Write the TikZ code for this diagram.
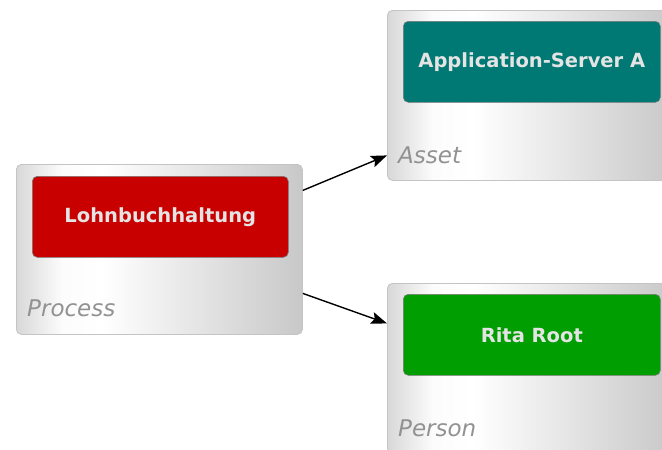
\documentclass[tikz,border=0pt]{standalone}
\usepackage{fontspec}
\setmainfont{DejaVu Sans}
\usetikzlibrary{arrows.meta,positioning}
\definecolor{boxleft}{HTML}{D8D8D8}
\definecolor{boxright}{HTML}{C8C8C8}
\definecolor{boxborder}{HTML}{C4C4C4}
\definecolor{innerborder}{HTML}{7A7A7A}
\definecolor{procred}{HTML}{C80000}
\definecolor{assetteal}{HTML}{007873}
\definecolor{persongreen}{HTML}{009E00}
\definecolor{innertext}{HTML}{E4E4E4}
\definecolor{typetext}{HTML}{929292}
\pgfdeclarehorizontalshading{boxshade}{100bp}{color(0bp)=(boxleft); color(25bp)=(boxleft); color(33bp)=(white!92!boxleft); color(40bp)=(white); color(75bp)=(boxright); color(100bp)=(boxright)}
\tikzset{
  outerbox/.style={draw=boxborder, line width=0.8pt, rounded corners=5pt, shading=boxshade, minimum width=286pt, minimum height=170pt, inner sep=0pt, anchor=north west},
  innerbox/.style={draw=innerborder, line width=0.6pt, rounded corners=5pt, minimum width=256pt, minimum height=81pt, inner sep=0pt, anchor=north west, text=innertext, font=\fontsize{19.5}{22}\selectfont\bfseries},
  typelabel/.style={anchor=base west, inner sep=0pt, text=typetext, font=\fontsize{23}{26}\selectfont\itshape},
  rel/.style={draw=black, line width=1.4pt, -{Stealth[length=16pt,width=12pt,inset=3pt]}}
}
\begin{document}
\begin{tikzpicture}[x=1pt,y=-1pt]
\useasboundingbox (0,0) rectangle (662,450);
\clip (0,0) rectangle (662,450);
% outer boxes
\node[outerbox] (proc) at (16,164) {};
\node[outerbox] (asset) at (387,10) {};
\node[outerbox] (person) at (387,283) {};
% inner boxes
\node[innerbox, fill=procred] (procin) at (32,176) {Lohnbuchhaltung};
\node[innerbox, fill=assetteal, minimum width=257pt] (assetin) at (403,21) {Application-Server A};
\node[innerbox, fill=persongreen, minimum width=257pt] (personin) at (403,294) {Rita Root};
% type labels
\node[typelabel] (proclbl) at (27,316) {Process};
\node[typelabel] (assetlbl) at (398,163) {Asset};
\node[typelabel] (personlbl) at (398,436) {Person};
% connectors
\draw[rel] ([yshift=59pt]proc.east) -- ([yshift=-60pt]asset.west);
\draw[rel] ([yshift=-44pt]proc.east) -- ([yshift=45pt]person.west);
\end{tikzpicture}
\end{document}
